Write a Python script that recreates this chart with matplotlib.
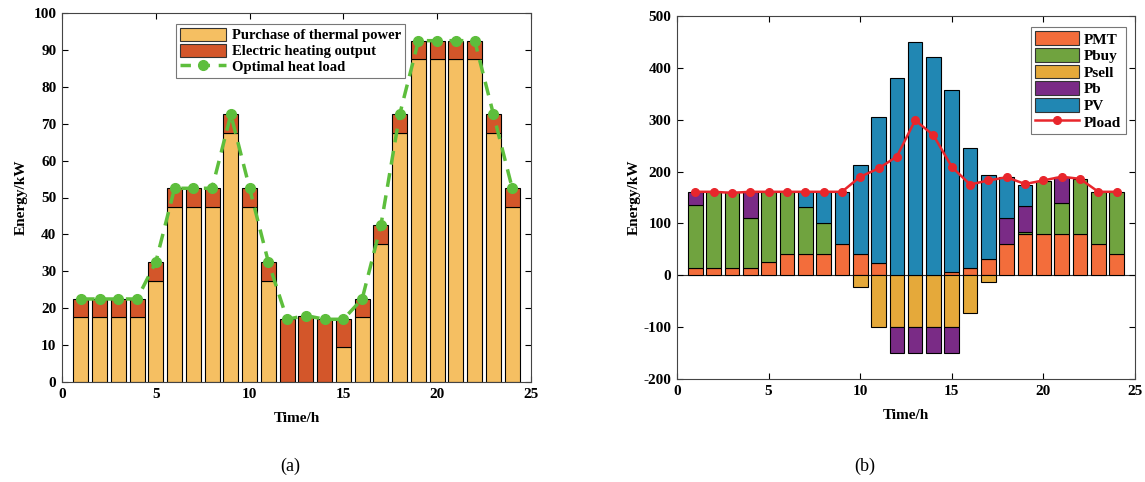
import numpy as np
import matplotlib
matplotlib.use("Agg")
import matplotlib.pyplot as plt
from matplotlib.lines import Line2D
from matplotlib.patches import Patch

# ---------------- data (a) ----------------
hours = np.arange(1, 25)
thermal = [17.5, 17.5, 17.5, 17.5, 27.5, 47.5, 47.5, 47.5, 67.5, 47.5, 27.5, 0,
           0, 0, 9.5, 17.5, 37.5, 67.5, 87.5, 87.5, 87.5, 87.5, 67.5, 47.5]
electric = [5, 5, 5, 5, 5, 5, 5, 5, 5, 5, 5, 17,
            18, 17, 7.5, 5, 5, 5, 5, 5, 5, 5, 5, 5]
heat_load = [22.5, 22.5, 22.5, 22.5, 32.5, 52.5, 52.5, 52.5, 72.5, 52.5, 32.5, 17,
             18, 17, 17, 22.5, 42.5, 72.5, 92.5, 92.5, 92.5, 92.5, 72.5, 52.5]

# ---------------- data (b) ----------------
PMT = [15, 15, 15, 15, 25, 42, 42, 42, 60, 42, 24, 0,
       0, 0, 7, 15, 32, 60, 80, 80, 80, 80, 60, 42]
Pbuy = [120, 145, 145, 95, 135, 118, 90, 59, 0, 0, 0, 0,
        0, 0, 0, 0, 0, 0, 4, 101, 60, 105, 100, 118]
Psell = [0, 0, 0, 0, 0, 0, 0, 0, 0, -23, -100, -100,
         -100, -100, -100, -72, -12, 0, 0, 0, 0, 0, 0, 0]
Pb = [25, 0, 0, 50, 0, 0, 0, 0, 0, 0, 0, -50,
      -50, -50, -50, 0, 0, 50, 50, 0, 50, 0, 0, 0]
PV = [0, 0, 0, 0, 0, 0, 28, 59, 100, 171, 281, 380,
      450, 420, 351, 230, 161, 80, 41, 0, 0, 0, 0, 0]
Pload = [161, 161, 159, 161, 161, 161, 161, 161, 161, 190, 206, 229,
         299, 270, 209, 175, 183, 189, 176, 183, 190, 186, 161, 161]

serif = ["Liberation Serif", "DejaVu Serif"]
plt.rcParams["font.family"] = serif
plt.rcParams["font.weight"] = "bold"
plt.rcParams["axes.unicode_minus"] = False

fig = plt.figure(figsize=(11.45, 4.82), dpi=100)
W, H = 1145, 482
axA = fig.add_axes([62 / W, 1 - 382 / H, (531 - 62) / W, (382 - 13) / H])
axB = fig.add_axes([677 / W, 1 - 379 / H, (1135 - 677) / W, (379 - 16) / H])

c_th = "#F5BF62"
c_el = "#D3562A"
c_gr = "#5DBE3C"

bw = 0.8
axA.bar(hours, thermal, bw, color=c_th, edgecolor="black", linewidth=0.8,
        zorder=2)
axA.bar(hours, electric, bw, bottom=thermal, color=c_el, edgecolor="black",
        linewidth=0.8, zorder=2)
axA.plot(hours, heat_load, "--", color=c_gr, lw=2.5, marker="o", ms=7,
         dashes=(4, 2.5), zorder=3)
axA.set_xlim(0, 25)
axA.set_ylim(0, 100)
axA.set_xticks(range(0, 26, 5))
axA.set_yticks(range(0, 101, 10))
axA.set_xlabel("Time/h", fontsize=11, fontweight="bold", labelpad=8)
axA.set_ylabel("Energy/kW", fontsize=11, fontweight="bold", labelpad=4)
hA = [Patch(facecolor=c_th, edgecolor="#333333", linewidth=0.8),
      Patch(facecolor=c_el, edgecolor="#333333", linewidth=0.8),
      Line2D([], [], color=c_gr, lw=2.5, ls="--", dashes=(3, 2.5), marker="o", ms=7)]
legA = axA.legend(hA, ["Purchase of thermal power", "Electric heating output",
                       "Optimal heat load"],
                  loc="upper left", bbox_to_anchor=(0.243, 0.97), fontsize=10.5,
                  frameon=True, fancybox=False, edgecolor="#555555",
                  borderpad=0.25, labelspacing=0.1, handlelength=3.2,
                  handleheight=1.0, handletextpad=0.4, borderaxespad=0)
legA.get_frame().set_linewidth(0.8)

colsB = ["#F36D3B", "#70A33F", "#E5A93A", "#7A2B86", "#2187B3"]
namesB = ["PMT", "Pbuy", "Psell", "Pb", "PV"]
series = np.array([PMT, Pbuy, Psell, Pb, PV], dtype=float)
pos = np.clip(series, 0, None)
neg = np.clip(series, None, 0)
pos_bot = np.vstack([np.zeros(24), np.cumsum(pos, axis=0)[:-1]])
neg_bot = np.vstack([np.zeros(24), np.cumsum(neg, axis=0)[:-1]])
for i in range(5):
    mp = pos[i] > 0
    mn = neg[i] < 0
    axB.bar(hours[mp], pos[i][mp], bw, bottom=pos_bot[i][mp], color=colsB[i],
            edgecolor="black", linewidth=0.8, zorder=2)
    axB.bar(hours[mn], neg[i][mn], bw, bottom=neg_bot[i][mn], color=colsB[i],
            edgecolor="black", linewidth=0.8, zorder=2)
axB.axhline(0, color="#333333", lw=0.8, zorder=1.5)
axB.plot(hours, Pload, "-", color="#E8262C", lw=1.8, marker="o", ms=5.5, zorder=3)
axB.set_xlim(0, 25)
axB.set_ylim(-200, 500)
axB.set_xticks(range(0, 26, 5))
axB.set_yticks(range(-200, 501, 100))
axB.set_xlabel("Time/h", fontsize=11, fontweight="bold", labelpad=8)
axB.set_ylabel("Energy/kW", fontsize=11, fontweight="bold", labelpad=2)
handles = [Patch(facecolor=c, edgecolor="#333333", linewidth=0.8) for c in colsB]
handles.append(Line2D([], [], color="#E8262C", lw=1.8, marker="o", ms=5.5))
legB = axB.legend(handles, namesB + ["Pload"], loc="upper right",
                  bbox_to_anchor=(0.98, 0.97), fontsize=11, frameon=True,
                  fancybox=False, edgecolor="#555555", borderpad=0.3,
                  labelspacing=0.1, handlelength=2.9, handleheight=1.0,
                  handletextpad=0.3, borderaxespad=0)
legB.get_frame().set_linewidth(0.8)

for ax in (axA, axB):
    ax.tick_params(direction="in", top=True, right=True, labelsize=11,
                   length=4, width=0.8, pad=4)
    for lab in ax.get_xticklabels() + ax.get_yticklabels():
        lab.set_fontweight("bold")
    for s in ax.spines.values():
        s.set_linewidth(0.8)
        s.set_color("#444444")

fig.text(290 / W, 1 - 466 / H, "(a)", fontsize=13, fontweight="normal",
         ha="center", va="center")
fig.text(865 / W, 1 - 466 / H, "(b)", fontsize=13, fontweight="normal",
         ha="center", va="center")

fig.savefig("out.png", dpi=100)
